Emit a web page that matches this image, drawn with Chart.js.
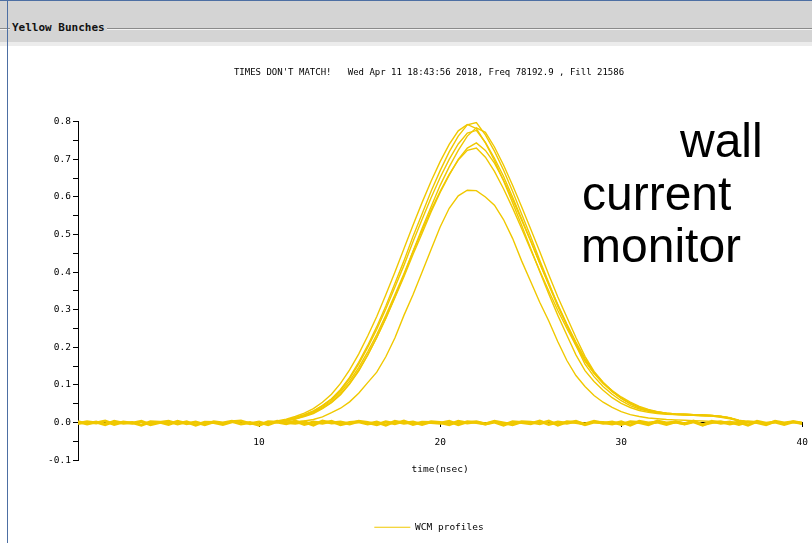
<!DOCTYPE html>
<html lang="en">
<head>
  <meta charset="UTF-8" />
  <title>Yellow Bunches - WCM profiles</title>
  <script src="https://cdn.jsdelivr.net/npm/chart.js"></script>
  <style>
    body {
      margin: 0;
      width: 812px;
      height: 543px;
      position: relative;
      overflow: hidden;
      background: #fff;
    }
    #header {
      position: absolute;
      left: 0; top: 0;
      width: 812px; height: 42px;
      background: #d4d4d4;
      border-top: 1px solid #4d6fa3;
      box-sizing: border-box;
    }
    #header .groove {
      position: absolute;
      left: 0; right: 0; top: 27px;
      border-top: 1px solid #8a8a8a;
      border-bottom: 1px solid #f2f2f2;
    }
    #header .label {
      position: absolute;
      left: 10px; top: 20px;
      padding: 0 2px;
      background: #d4d4d4;
      font: bold 11px "DejaVu Sans Mono", monospace;
      color: #111;
    }
    #strip {
      position: absolute;
      left: 0; top: 42px;
      width: 812px; height: 4px;
      background: #ececec;
    }
    #edge {
      position: absolute;
      left: 7px; top: 0;
      width: 1px; height: 543px;
      background: #4d6fa3;
    }
    #wrap {
      position: absolute;
      left: 8px; top: 45px;
      width: 810px; height: 498px;
    }
    .note {
      position: absolute;
      font: 48px "Liberation Sans", Arial, sans-serif;
      line-height: 48px;
      color: #000;
      white-space: nowrap;
    }
  </style>
</head>
<body>

  <div id="header"><div class="groove"></div><div class="label">Yellow Bunches</div></div>
  <div id="strip"></div>
  <div id="edge"></div>
  <div id="wrap"><canvas id="wcmChart"></canvas></div>
  <div class="note" style="left:680px; top:117px;">wall</div>
  <div class="note" style="left:582px; top:170px;">current</div>
  <div class="note" style="left:581px; top:222px;">monitor</div>

  <script>
    const titleText = "TIMES DON'T MATCH!   Wed Apr 11 18:43:56 2018, Freq 78192.9 , Fill 21586";
    const xTitle = 'time(nsec)';
    const legendLabel = 'WCM profiles';
    const yellow = '#f0c800';
    const mono = '"DejaVu Sans Mono", monospace';

    // time axis of the bunch profiles (nsec)
    const pulseTimes = [
      11, 11.5, 12, 12.5, 13, 13.5, 14, 14.5, 15, 15.5,
      16, 16.5, 17, 17.5, 18, 18.5, 19, 19.5, 20, 20.5,
      21, 21.5, 22, 22.5, 23, 23.5, 24, 24.5, 25, 25.5,
      26, 26.5, 27, 27.5, 28, 28.5, 29, 29.5, 30, 30.5,
      31, 31.5, 32, 32.5, 33, 33.5, 34, 34.5, 35, 35.5,
      36, 36.5, 37
    ];

    const profileA = [
      0.003, 0.006, 0.012, 0.020, 0.030, 0.045, 0.063, 0.088, 0.120, 0.160,
      0.205, 0.255, 0.310, 0.370, 0.430, 0.495, 0.555, 0.615, 0.670, 0.720,
      0.762, 0.792, 0.798, 0.765, 0.722, 0.672, 0.615, 0.555, 0.495, 0.432,
      0.372, 0.312, 0.258, 0.205, 0.155, 0.122, 0.096, 0.075, 0.058, 0.045,
      0.036, 0.030, 0.026, 0.024, 0.022, 0.021, 0.020, 0.019, 0.018, 0.016,
      0.012, 0.005, 0.001
    ];
    const profileB = [
      0.004, 0.009, 0.016, 0.025, 0.037, 0.054, 0.075, 0.104, 0.140, 0.182,
      0.230, 0.282, 0.340, 0.400, 0.462, 0.525, 0.585, 0.642, 0.694, 0.740,
      0.776, 0.793, 0.782, 0.744, 0.697, 0.643, 0.585, 0.525, 0.463, 0.402,
      0.342, 0.285, 0.232, 0.180, 0.138, 0.109, 0.086, 0.066, 0.051, 0.040,
      0.032, 0.027, 0.024, 0.022, 0.021, 0.020, 0.019, 0.018, 0.017, 0.014,
      0.010, 0.004, 0.001
    ];
    const profileC = [
      0.002, 0.004, 0.009, 0.016, 0.024, 0.037, 0.053, 0.074, 0.102, 0.137,
      0.179, 0.226, 0.278, 0.334, 0.392, 0.455, 0.516, 0.574, 0.631, 0.680,
      0.724, 0.762, 0.784, 0.772, 0.733, 0.685, 0.631, 0.574, 0.515, 0.455,
      0.393, 0.334, 0.280, 0.226, 0.176, 0.136, 0.107, 0.084, 0.065, 0.050,
      0.040, 0.033, 0.028, 0.025, 0.023, 0.022, 0.021, 0.020, 0.019, 0.017,
      0.013, 0.006, 0.002
    ];
    const profileD = [
      0.003, 0.007, 0.013, 0.021, 0.031, 0.045, 0.062, 0.086, 0.117, 0.155,
      0.200, 0.248, 0.302, 0.360, 0.418, 0.481, 0.540, 0.598, 0.652, 0.700,
      0.741, 0.770, 0.777, 0.745, 0.703, 0.655, 0.600, 0.542, 0.484, 0.424,
      0.366, 0.309, 0.258, 0.210, 0.163, 0.130, 0.104, 0.082, 0.064, 0.050,
      0.040, 0.033, 0.028, 0.025, 0.023, 0.022, 0.021, 0.020, 0.019, 0.016,
      0.012, 0.005, 0.002
    ];
    const profileE = [
      0.002, 0.005, 0.010, 0.017, 0.026, 0.038, 0.054, 0.076, 0.104, 0.139,
      0.180, 0.226, 0.277, 0.332, 0.388, 0.447, 0.503, 0.560, 0.612, 0.658,
      0.700, 0.730, 0.744, 0.724, 0.690, 0.645, 0.594, 0.538, 0.482, 0.424,
      0.368, 0.314, 0.262, 0.214, 0.170, 0.134, 0.106, 0.083, 0.065, 0.050,
      0.039, 0.031, 0.026, 0.023, 0.021, 0.020, 0.019, 0.018, 0.017, 0.015,
      0.011, 0.005, 0.001
    ];
    const profileF = [
      0.003, 0.006, 0.012, 0.019, 0.028, 0.041, 0.058, 0.081, 0.110, 0.146,
      0.188, 0.234, 0.285, 0.340, 0.396, 0.455, 0.510, 0.565, 0.615, 0.660,
      0.698, 0.724, 0.730, 0.706, 0.668, 0.622, 0.571, 0.516, 0.460, 0.404,
      0.350, 0.298, 0.250, 0.205, 0.165, 0.132, 0.106, 0.085, 0.068, 0.054,
      0.043, 0.035, 0.029, 0.025, 0.023, 0.022, 0.021, 0.020, 0.019, 0.016,
      0.012, 0.005, 0.002
    ];
    const profileG = [
      0.000, 0.001, 0.002, 0.004, 0.008, 0.015, 0.026, 0.038, 0.055, 0.078,
      0.106, 0.134, 0.175, 0.225, 0.285, 0.340, 0.400, 0.460, 0.520, 0.570,
      0.603, 0.618, 0.617, 0.600, 0.578, 0.540, 0.490, 0.430, 0.375, 0.320,
      0.270, 0.215, 0.165, 0.125, 0.096, 0.072, 0.054, 0.040, 0.029, 0.021,
      0.016, 0.012, 0.010, 0.008, 0.007, 0.006, 0.005, 0.004, 0.003, 0.002,
      0.001, 0.000, 0.000
    ];

    // empty / pedestal traces over the whole window
    const baseTimes = [
      0, 0.5, 1, 1.5, 2, 2.5, 3, 3.5, 4, 4.5,
      5, 5.5, 6, 6.5, 7, 7.5, 8, 8.5, 9, 9.5,
      10, 10.5, 11, 11.5, 12, 12.5, 13, 13.5, 14, 14.5,
      15, 15.5, 16, 16.5, 17, 17.5, 18, 18.5, 19, 19.5,
      20, 20.5, 21, 21.5, 22, 22.5, 23, 23.5, 24, 24.5,
      25, 25.5, 26, 26.5, 27, 27.5, 28, 28.5, 29, 29.5,
      30, 30.5, 31, 31.5, 32, 32.5, 33, 33.5, 34, 34.5,
      35, 35.5, 36, 36.5, 37, 37.5, 38, 38.5, 39, 39.5,
      40
    ];
    const pedestalA = [
      0.002, -0.004, 0.001, -0.006, 0.003, -0.002, 0.000, -0.007, 0.002, 0.001,
      -0.005, 0.003, -0.003, 0.001, -0.006, 0.002, -0.001, 0.003, -0.004, 0.000,
      -0.007, 0.002, 0.001, -0.003, 0.004, -0.005, 0.001, -0.002, 0.003, -0.006,
      0.000, 0.002, -0.004, 0.001, -0.007, 0.003, -0.002, 0.001, -0.005, 0.002,
      0.000, -0.006, 0.003, -0.001, 0.002, -0.004, 0.001, -0.007, 0.002, 0.000,
      -0.003, 0.004, -0.005, 0.001, -0.002, 0.003, -0.006, 0.001, 0.000, -0.004,
      0.002, -0.007, 0.003, -0.001, 0.001, -0.005, 0.002, -0.003, 0.004, -0.006,
      0.000, 0.002, -0.004, 0.001, -0.007, 0.003, -0.002, 0.001, -0.005, 0.002,
      -0.001
    ];
    const pedestalB = [
      -0.003, 0.002, -0.001, 0.004, -0.005, 0.001, -0.002, 0.003, -0.006, 0.000,
      0.003, -0.004, 0.002, -0.007, 0.001, 0.000, -0.005, 0.002, 0.004, -0.003,
      0.001, -0.006, 0.003, 0.000, -0.002, 0.002, -0.007, 0.004, -0.001, 0.001,
      -0.004, 0.003, 0.000, -0.006, 0.002, -0.003, 0.004, -0.005, 0.001, 0.000,
      -0.002, 0.003, -0.006, 0.002, 0.000, -0.004, 0.003, -0.001, -0.006, 0.002,
      0.001, -0.003, 0.004, -0.007, 0.002, 0.000, -0.004, 0.003, -0.002, 0.001,
      -0.005, 0.002, 0.000, -0.006, 0.004, -0.001, 0.001, -0.004, 0.002, -0.007,
      0.003, -0.002, 0.001, -0.005, 0.002, 0.000, -0.006, 0.003, -0.001, 0.002,
      -0.003
    ];

    const profiles = [profileA, profileB, profileC, profileD, profileE, profileF, profileG];
    const pedestals = [pedestalA, pedestalB];

    const toPoints = (xs, ys) => xs.map((x, i) => ({ x: x, y: ys[i] }));

    const datasets = [];
    profiles.forEach(p => {
      datasets.push({
        label: legendLabel,
        data: toPoints(pulseTimes, p),
        borderColor: yellow,
        backgroundColor: yellow,
        borderWidth: 1.4
      });
    });
    pedestals.forEach(p => {
      datasets.push({
        label: legendLabel,
        data: toPoints(baseTimes, p),
        borderColor: yellow,
        backgroundColor: yellow,
        borderWidth: 3
      });
    });

    Chart.defaults.font.family = mono;
    Chart.defaults.color = '#000';

    const ctx = document.getElementById('wcmChart').getContext('2d');
    new Chart(ctx, {
      type: 'line',
      data: { datasets: datasets },
      options: {
        responsive: true,
        maintainAspectRatio: false,
        animation: false,
        layout: { padding: { left: 34, right: 2, top: 0, bottom: 1 } },
        elements: { point: { radius: 0 }, line: { tension: 0 } },
        plugins: {
          title: {
            display: true,
            text: titleText,
            color: '#000',
            font: { family: mono, size: 9, weight: 'normal' },
            padding: { top: 22, bottom: 44 }
          },
          legend: {
            position: 'bottom',
            title: { display: true, text: ' ', padding: { top: 38, bottom: 0 } },
            labels: {
              // one entry for all traces, drawn as a thin line
              generateLabels: chart =>
                Chart.defaults.plugins.legend.labels.generateLabels(chart)
                  .slice(0, 1)
                  .map(item => Object.assign(item, { lineWidth: 0 })),
              boxWidth: 36,
              boxHeight: 1,
              color: '#000',
              font: { family: mono, size: 9.5 },
              padding: 10
            }
          },
          tooltip: { enabled: false }
        },
        scales: {
          x: {
            type: 'linear',
            position: { y: 0 },
            min: 0,
            max: 40,
            ticks: {
              stepSize: 10,
              maxRotation: 0,
              padding: 10,
              color: '#000',
              font: { family: mono, size: 9.5 },
              callback: v => (v === 0 ? '' : v)
            },
            grid: { drawOnChartArea: false, tickLength: 4, color: '#000' },
            border: { color: '#000' },
            title: {
              display: true,
              text: xTitle,
              color: '#000',
              font: { family: mono, size: 9.5 },
              padding: { top: 6, bottom: 0 }
            }
          },
          y: {
            min: -0.1,
            max: 0.8,
            afterFit: s => { s.width = 36; },
            ticks: {
              stepSize: 0.05,
              autoSkip: false,
              padding: 2,
              color: '#000',
              font: { family: mono, size: 9.5 },
              callback: v => (Math.round(v * 100) % 10 === 0 ? v.toFixed(1) : '')
            },
            grid: { drawOnChartArea: false, tickLength: 5, color: '#000' },
            border: { color: '#000' }
          }
        }
      }
    });
  </script>
</body>
</html>
